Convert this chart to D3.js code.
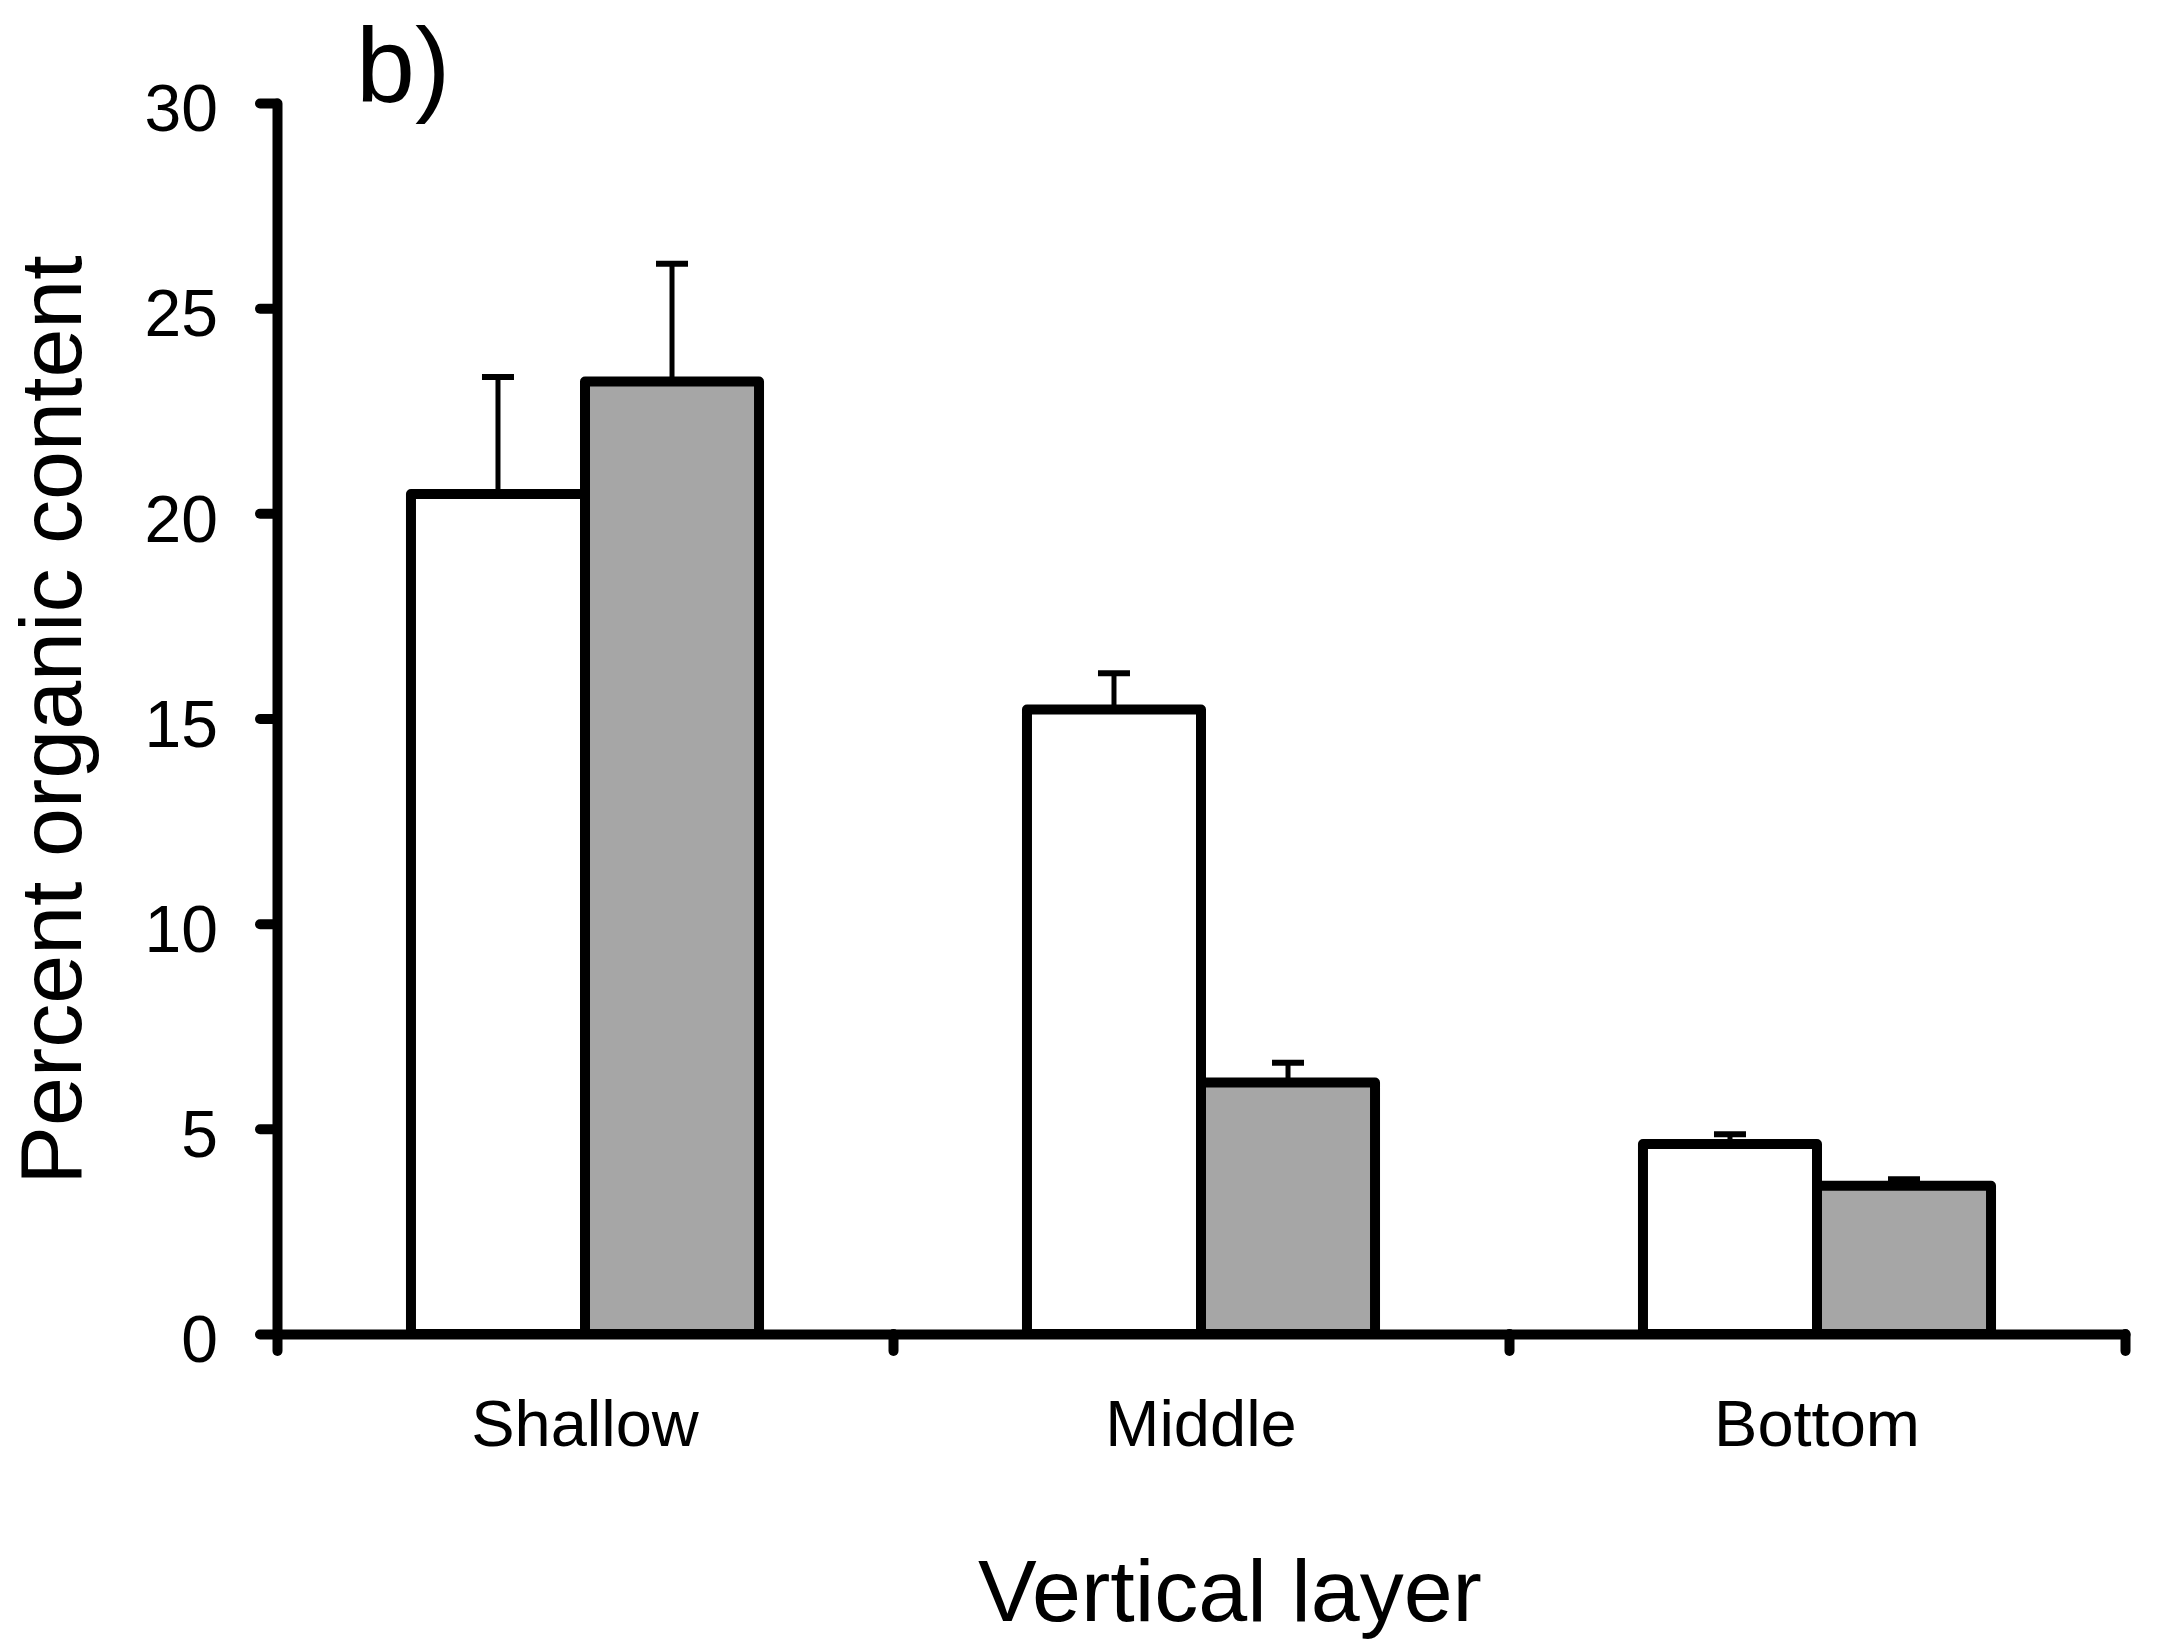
<!DOCTYPE html>
<html>
<head>
<meta charset="utf-8">
<script src="https://cdn.jsdelivr.net/npm/d3@7"></script>
<style>
  html, body { margin: 0; padding: 0; background: #fff; }
  svg { display: block; font-family: "Liberation Sans", Arial, sans-serif; }
</style>
</head>
<body>
<script>
// Vertical layers sampled
const categories = ["Shallow", "Middle", "Bottom"];
// Two treatments per layer: open bars and grey bars (means, upper error)
const openMeans  = [20.47, 15.22, 4.63];
const openErrors = [2.85, 0.88, 0.24];
const greyMeans  = [23.21, 6.13, 3.61];
const greyErrors = [2.87, 0.48, 0.16];
const yTicks = [0, 5, 10, 15, 20, 25, 30];

const W = 2182, H = 1641;
const plotLeft = 277, plotRight = 2125, plotTop = 103, plotBottom = 1334;

const svg = d3.select("body").append("svg")
  .attr("width", W).attr("height", H);

const y = d3.scaleLinear().domain([0, 30]).range([plotBottom, plotTop]);
const x = d3.scaleBand().domain(categories).range([plotLeft, plotRight]).padding(0);
const barW = x.bandwidth() * 0.2825;

const series = [
  { name: "open", means: openMeans, errs: openErrors, fill: "#ffffff", offset: -1 },
  { name: "grey", means: greyMeans, errs: greyErrors, fill: "#a6a6a6", offset: 0 }
];

// Bars
series.forEach(s => {
  svg.append("g").selectAll("rect")
    .data(categories.map((c, i) => ({ c, v: s.means[i] })))
    .join("rect")
    .attr("x", d => x(d.c) + x.bandwidth() / 2 + s.offset * barW)
    .attr("y", d => y(d.v))
    .attr("width", barW)
    .attr("height", d => y(0) - y(d.v))
    .attr("fill", s.fill)
    .attr("stroke", "#000")
    .attr("stroke-width", 10)
    .attr("stroke-linejoin", "round");
});

// Error bars (upper only)
series.forEach(s => {
  const g = svg.append("g");
  const data = categories.map((c, i) => ({
    cx: x(c) + x.bandwidth() / 2 + s.offset * barW + barW / 2,
    v: s.means[i], e: s.errs[i]
  }));
  g.selectAll("line.stem").data(data).join("line")
    .attr("class", "stem")
    .attr("x1", d => d.cx).attr("x2", d => d.cx)
    .attr("y1", d => y(d.v)).attr("y2", d => y(d.v + d.e))
    .attr("stroke", "#000").attr("stroke-width", 5);
  g.selectAll("line.cap").data(data).join("line")
    .attr("class", "cap")
    .attr("x1", d => d.cx - 16).attr("x2", d => d.cx + 16)
    .attr("y1", d => y(d.v + d.e)).attr("y2", d => y(d.v + d.e))
    .attr("stroke", "#000").attr("stroke-width", 6);
});

// Y axis
const yAxis = svg.append("g")
  .attr("transform", `translate(${plotLeft},0)`)
  .call(d3.axisLeft(y).tickValues(yTicks).tickSize(17).tickSizeOuter(0).tickPadding(42));
yAxis.select(".domain").attr("stroke", "#000").attr("stroke-width", 10).attr("stroke-linecap", "round");
yAxis.selectAll(".tick line").attr("stroke", "#000").attr("stroke-width", 10).attr("stroke-linecap", "round");
yAxis.selectAll(".tick text")
  .attr("font-size", 66).attr("fill", "#000")
  .attr("font-family", "Liberation Sans, Arial, sans-serif")
  .attr("dy", "0.42em");

// X axis: baseline with ticks at category boundaries
const xEdge = d3.scaleLinear().domain([0, categories.length]).range([plotLeft, plotRight]);
const xAxis = svg.append("g")
  .attr("transform", `translate(0,${plotBottom})`)
  .call(d3.axisBottom(xEdge).tickValues(d3.range(categories.length + 1)).tickSize(17).tickSizeOuter(0).tickFormat(""));
xAxis.select(".domain").attr("stroke", "#000").attr("stroke-width", 10).attr("stroke-linecap", "round");
xAxis.selectAll(".tick line").attr("stroke", "#000").attr("stroke-width", 10).attr("stroke-linecap", "round");

// Category labels
svg.append("g").selectAll("text")
  .data(categories).join("text")
  .attr("x", d => x(d) + x.bandwidth() / 2)
  .attr("y", 1446)
  .attr("text-anchor", "middle")
  .attr("font-size", 65)
  .attr("fill", "#000")
  .text(d => d);

// Axis titles
svg.append("text")
  .attr("x", 1230).attr("y", 1621)
  .attr("text-anchor", "middle")
  .attr("font-size", 88).attr("fill", "#000")
  .text("Vertical layer");

svg.append("text")
  .attr("transform", "translate(81,720) rotate(-90)")
  .attr("text-anchor", "middle")
  .attr("font-size", 88).attr("fill", "#000")
  .text("Percent organic content");

// Panel letter
svg.append("text")
  .attr("x", 356).attr("y", 102)
  .attr("font-size", 106).attr("fill", "#000")
  .text("b)");
</script>
</body>
</html>
